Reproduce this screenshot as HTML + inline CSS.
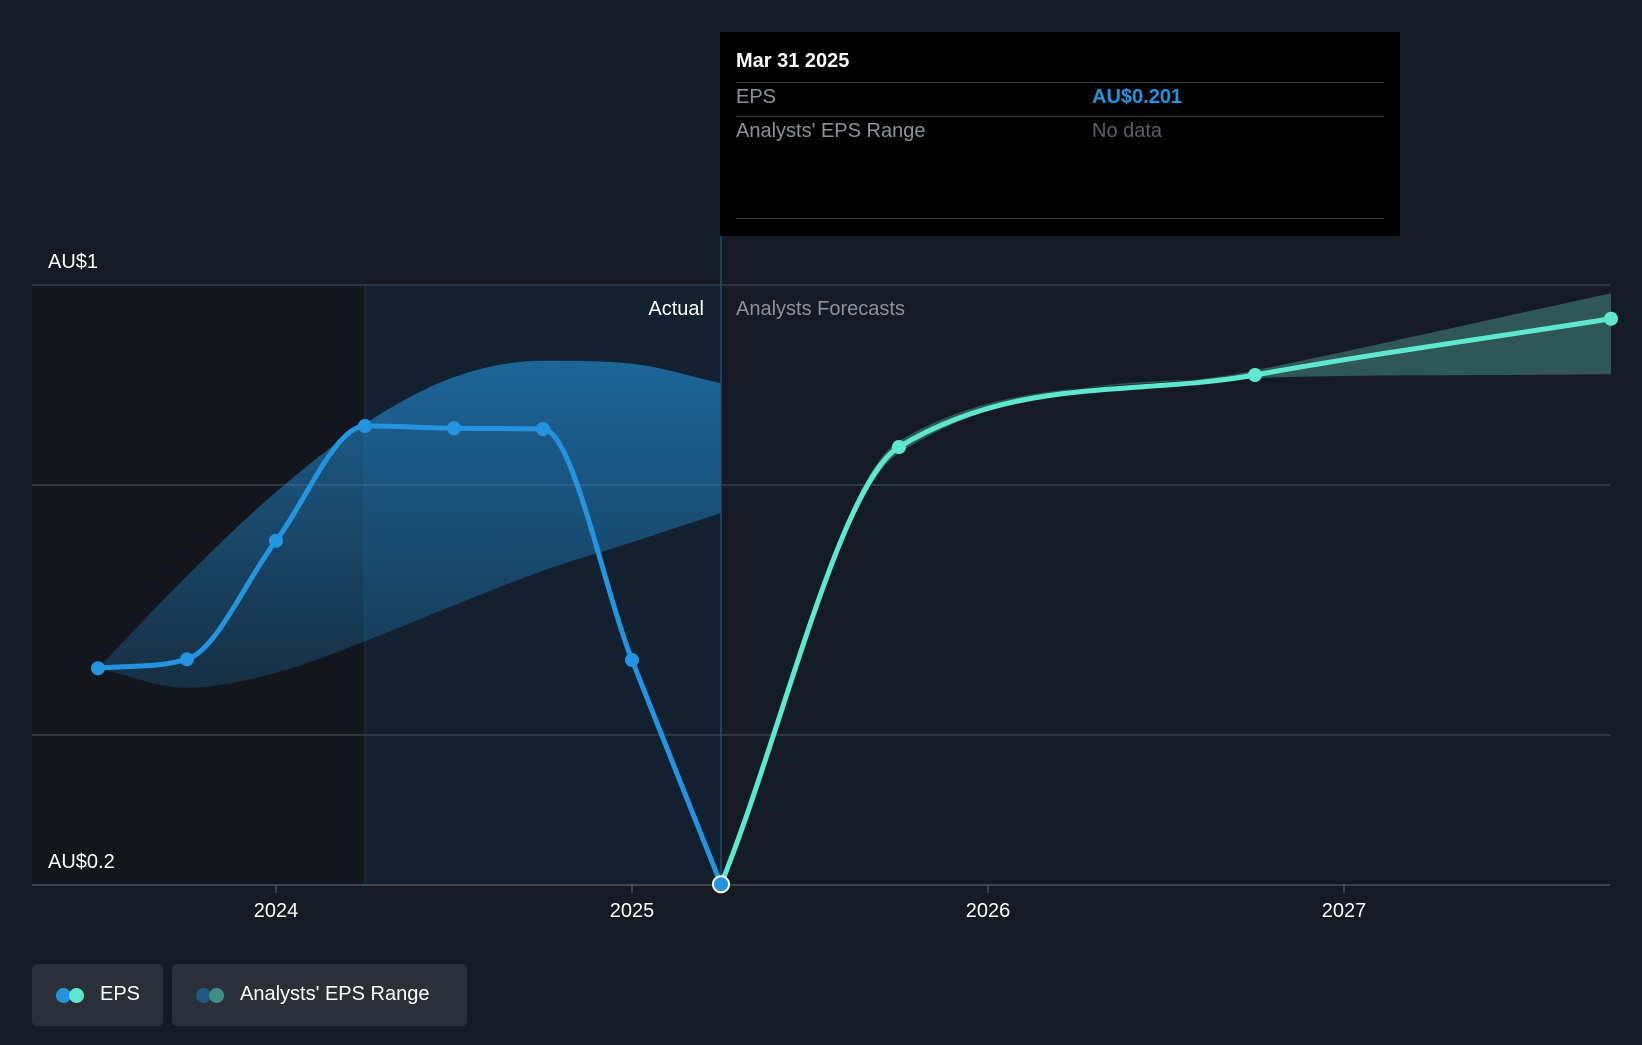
<!DOCTYPE html>
<html><head><meta charset="utf-8"><style>
html,body{margin:0;padding:0;background:#151b24;}
body{width:1642px;height:1040px;overflow:hidden;font-family:"Liberation Sans",sans-serif;}
svg text{font-family:"Liberation Sans",sans-serif;}
</style></head><body>
<svg width="1642" height="1040" viewBox="0 0 1642 1040">
<defs>
<linearGradient id="bandGrad" x1="0" y1="0" x2="0" y2="1">
<stop offset="0" stop-color="#2394df" stop-opacity="0.6"/>
<stop offset="1" stop-color="#2394df" stop-opacity="0.2"/>
</linearGradient>
</defs>
<rect x="0" y="0" width="1642" height="1040" fill="#151b24"/>
<g id="plot"></g>
</svg>
<script>
const years=[2024,2025,2026,2027];
const gridValues=[1,0.7333,0.4];
const yLabels=["AU$1","AU$0.2"];
const yLabelValues=[1,0.2];
const epsTimes=[2023.5,2023.75,2024.0,2024.25,2024.5,2024.75,2025.0,2025.25];
const epsValues=[0.489,0.501,0.659,0.812,0.809,0.808,0.5,0.201];
const bandTimes=[2023.5,2023.75,2024.0,2024.25,2024.5,2024.75,2025.0,2025.25];
const bandHigh=[0.489,0.612,0.724,0.815,0.877,0.899,0.895,0.869];
const bandLow=[0.489,0.463,0.483,0.525,0.573,0.619,0.657,0.696];
const fcTimes=[2025.25,2025.75,2026.75,2027.75];
const fcValues=[0.201,0.784,0.88,0.955];
const fcHigh=[0.201,0.792,0.886,0.989];
const fcLow=[0.201,0.776,0.876,0.881];
const highlightStart=2024.25, nowTime=2025.25;

const X0=32,X1=1610,Y0=885,Y1=285;
const xs=t=>632+(t-2025)*356;
const ys=v=>Y0-(v-0.2)/0.8*(Y0-Y1);
const NS="http://www.w3.org/2000/svg";
const g=document.getElementById('plot');
function mk(tag,attrs,parent){const e=document.createElementNS(NS,tag);for(const k in attrs)e.setAttribute(k,attrs[k]);(parent||g).appendChild(e);return e;}

function monotone(pts){
  const n=pts.length; if(n<2) return '';
  const dx=[],dy=[],m=[];
  for(let i=0;i<n-1;i++){dx.push(pts[i+1][0]-pts[i][0]);dy.push(pts[i+1][1]-pts[i][1]);m.push(dy[i]/dx[i]);}
  const t=new Array(n);
  t[0]=m[0];t[n-1]=m[n-2];
  for(let i=1;i<n-1;i++){ if(m[i-1]*m[i]<=0) t[i]=0; else { const s=(m[i-1]*dx[i]+m[i]*dx[i-1])/(dx[i-1]+dx[i]); t[i]=Math.sign(s)*Math.min(Math.abs(s),3*Math.min(Math.abs(m[i-1]),Math.abs(m[i]))/1*0.5*2);} }
  let d='M'+pts[0][0]+','+pts[0][1];
  for(let i=0;i<n-1;i++){const h=dx[i]/3;d+=' C'+(pts[i][0]+h)+','+(pts[i][1]+t[i]*h)+' '+(pts[i+1][0]-h)+','+(pts[i+1][1]-t[i+1]*h)+' '+pts[i+1][0]+','+pts[i+1][1];}
  return d;
}
function pts(T,V){return T.map((t,i)=>[xs(t),ys(V[i])]);}
function bandPath(T,H,L){
  const up=monotone(pts(T,H));
  const lo=pts(T,L).reverse();
  return up+' L'+lo[0][0]+','+lo[0][1]+' '+monotone(lo).slice(1).replace(/^[^C]*/,'')+' Z';
}

// past dark region
let r=mk('rect',{x:X0,y:Y1,width:xs(highlightStart)-X0,height:Y0-Y1,fill:'#13161d'});


r=mk('rect',{x:xs(highlightStart),y:Y1,width:xs(nowTime)-xs(highlightStart),height:Y0-Y1,fill:'#12202f'});


let l=mk('line',{x1:xs(highlightStart),x2:xs(highlightStart),y1:Y1,y2:Y0,stroke:'#1c3448','stroke-width':1});



// gridlines
gridValues.forEach(v=>{
  const e=mk('line',{x1:X0,x2:X1,y1:ys(v),y2:ys(v),stroke:'#3a414b','stroke-width':1.5});
  
  
});
let gl=mk('line',{x1:X0,x2:X1,y1:Y0,y2:Y0,stroke:'#4a5059','stroke-width':1.5});



// bands
let b=mk('path',{d:bandPath(bandTimes,bandHigh,bandLow),fill:'url(#bandGrad)'});


b=mk('path',{d:bandPath(fcTimes,fcHigh,fcLow),fill:'#2f5b59','fill-opacity':'0.95'});



// now line
l=mk('line',{x1:xs(nowTime),x2:xs(nowTime),y1:236,y2:Y0,stroke:'#1f4f78','stroke-width':1.5});



// lines
let p=mk('path',{d:monotone(pts(epsTimes,epsValues)),fill:'none',stroke:'#2394df','stroke-width':5,'stroke-linecap':'round'});


p=mk('path',{d:monotone(pts(fcTimes,fcValues)),fill:'none',stroke:'#5ee8d0','stroke-width':5,'stroke-linecap':'round'});



epsTimes.forEach((t,i)=>{
  const last=i===epsTimes.length-1;
  const c=mk('circle',{cx:xs(t),cy:ys(epsValues[i]),r:last?8:7,fill:'#2394df',stroke:last?'#fff':'none','stroke-width':2});
  
  
});
fcTimes.slice(1).forEach((t,i)=>{
  const c=mk('circle',{cx:xs(t),cy:ys(fcValues[i+1]),r:7,fill:'#5ee8d0'});
  
  
});

// axis labels
yLabels.forEach((s,i)=>{
  const tx=mk('text',{x:48,y:ys(yLabelValues[i])-17,fill:'#fff','font-size':20});
  tx.textContent=s;
  
  
});
years.forEach(yr=>{
  const tk=mk('line',{x1:xs(yr),x2:xs(yr),y1:Y0,y2:Y0+8,stroke:'#4a5059','stroke-width':1.5});
  
  
  const tx=mk('text',{x:xs(yr),y:917,fill:'#fff','font-size':20,'text-anchor':'middle'});
  tx.textContent=String(yr);
  
  
});
let t1=mk('text',{x:704,y:315,fill:'#fff','font-size':20,'text-anchor':'end'});
t1.textContent='Actual';


t1=mk('text',{x:736,y:315,fill:'#8e9299','font-size':20});
t1.textContent='Analysts Forecasts';


</script>

<div style="position:absolute;left:720px;top:32px;width:680px;height:204px;background:#000;">
  <div style="position:absolute;left:16px;top:18px;color:#fff;font-size:20px;font-weight:bold;">Mar 31 2025</div>
  <div style="position:absolute;left:16px;right:16px;top:50px;border-top:1.5px solid #3a3d42;"></div>
  <div style="position:absolute;left:16px;top:54px;color:#8e9299;font-size:20px;">EPS</div>
  <div style="position:absolute;left:372px;top:54px;color:#2394df;font-size:20px;font-weight:bold;">AU$0.201</div>
  <div style="position:absolute;left:16px;right:16px;top:84px;border-top:1.5px solid #3a3d42;"></div>
  <div style="position:absolute;left:16px;top:88px;color:#8e9299;font-size:20px;">Analysts' EPS Range</div>
  <div style="position:absolute;left:372px;top:88px;color:#5d6066;font-size:20px;">No data</div>
  <div style="position:absolute;left:16px;right:16px;top:186px;border-top:1.5px solid #3a3d42;"></div>
</div>

<div style="position:absolute;left:32px;top:964px;width:131px;height:62px;background:#2a2f38;border-radius:5px;">
  <span style="position:absolute;left:24px;top:24px;width:15px;height:15px;border-radius:50%;background:#2394df;"></span>
  <span style="position:absolute;left:37px;top:24px;width:15px;height:15px;border-radius:50%;background:#5ee8d0;"></span>
  <span style="position:absolute;left:68px;top:19px;color:#fff;font-size:20px;">EPS</span>
</div>
<div style="position:absolute;left:172px;top:964px;width:295px;height:62px;background:#2a2f38;border-radius:5px;">
  <span style="position:absolute;left:24px;top:24px;width:15px;height:15px;border-radius:50%;background:#1f5a85;"></span>
  <span style="position:absolute;left:37px;top:24px;width:15px;height:15px;border-radius:50%;background:#3f8f85;"></span>
  <span style="position:absolute;left:68px;top:19px;color:#fff;font-size:20px;">Analysts' EPS Range</span>
</div>
</body></html>
